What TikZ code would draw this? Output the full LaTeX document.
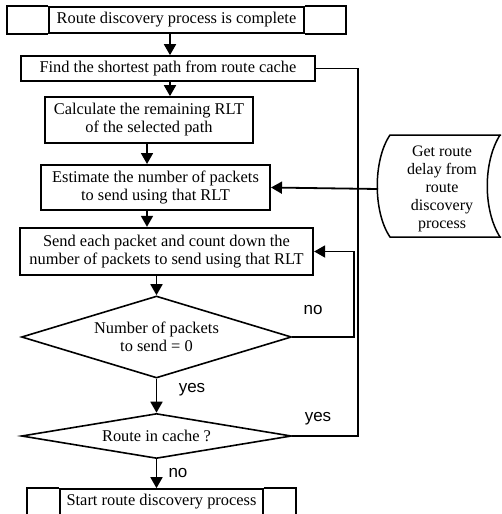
\documentclass[tikz,border=0pt]{standalone}
\usepackage{fontspec}
\setmainfont{Liberation Serif}
\newfontfamily\labfont{Liberation Sans}
\usetikzlibrary{shapes.geometric,arrows.meta}
\begin{document}
\begin{tikzpicture}[x=1pt,y=-1pt,
  txt/.style={font=\fontsize{16.4}{18}\selectfont},
  box/.style={draw,line width=1.7pt,inner sep=0pt,align=center,txt},
  dia/.style={draw,diamond,line width=1.6pt,inner sep=0pt,align=center,txt},
  ln/.style={line width=1.8pt},
  arr/.style={line width=1.8pt,-{Triangle[width=12pt,length=11pt]}},
  lab/.style={font=\labfont\fontsize{17}{20}\selectfont}]
\useasboundingbox (0,0) rectangle (501,514);
\clip (0,0) rectangle (501,514);
\coordinate (x170) at (170,0);
\coordinate (x147) at (147,0);

\node[box,minimum width=255pt,minimum height=26pt] (b1) at (176.5,20) {Route discovery process is complete};
\draw[line width=1.7pt] (b1.north west) -- ++(-41,0) |- (b1.south west);
\draw[line width=1.7pt] (b1.north east) -- ++(41,0) |- (b1.south east);

\node[box,minimum width=294pt,minimum height=25pt] (b2) at (168,68.5) {Find the shortest path from route cache};
\node[box,minimum width=208pt,minimum height=46pt] (b3) at (149,120) {Calculate the remaining RLT\\of the selected path};
\node[box,line width=2pt,minimum width=229pt,minimum height=45pt] (b4) at (155.5,187.5) {Estimate the number of packets\\to send using that RLT};
\node[box,line width=2.3pt,minimum width=293pt,minimum height=47pt] (b5) at (166.5,251.5) {Send each packet and count down the\\number of packets to send using that RLT};
\node[dia,shape aspect=3.3,minimum width=270pt,minimum height=82pt] (d1) at (156.5,337) {Number of packets\\to send = 0};
\node[dia,shape aspect=6,minimum width=270pt,minimum height=45pt] (d2) at (156.5,436) {Route in cache ?};
\node[box,minimum width=203pt,minimum height=26pt] (b6) at (161.5,502) {Start route discovery process};
\draw[line width=1.7pt] (b6.north west) -- ++(-32,0) -- ++(0,30);
\draw[line width=1.7pt] (b6.north east) -- ++(32,0) -- ++(0,30);

% stored-data shape
\draw[line width=1.5pt] (504,135) -- (390,135) .. controls (373,160) and (373,212) .. (390,237) -- (504,237);
\draw[line width=1.5pt] (500,135) .. controls (483,162) and (483,210) .. (500,237);
\coordinate (cylL) at (378,189);
\node[txt,align=center,font=\fontsize{16}{18}\selectfont] (cyl) at (442,189) {Get route\\delay from\\route\\discovery\\process};

\draw[arr] (b1.south -| x170) -- (b2.north -| x170);
\draw[arr] (b2.south -| x170) -- (b3.north -| x170);
\draw[arr] (b3.south -| x147) -- (b4.north -| x147);
\draw[arr] (b4.south -| x147) -- (b5.north -| x147);
\draw[arr] (b5.south -| d1.north) -- (d1.north);
\draw[arr] (d1.south) -- (d2.north);
\draw[arr] (d2.south) -- (b6.north -| d2.south);
\draw[arr] (d1.east) -- ++(62,0) |- (b5.east);
\draw[ln] (d2.east) -- ++(66,0) |- (b2.east);
\draw[arr] (cylL) -- (b4.east);

\node[lab] (lno1) at (313,310) {no};
\node[lab] (lyes1) at (192,390) {yes};
\node[lab] (lyes2) at (318,419) {yes};
\node[lab] (lno2) at (178,473) {no};
\end{tikzpicture}
\end{document}
